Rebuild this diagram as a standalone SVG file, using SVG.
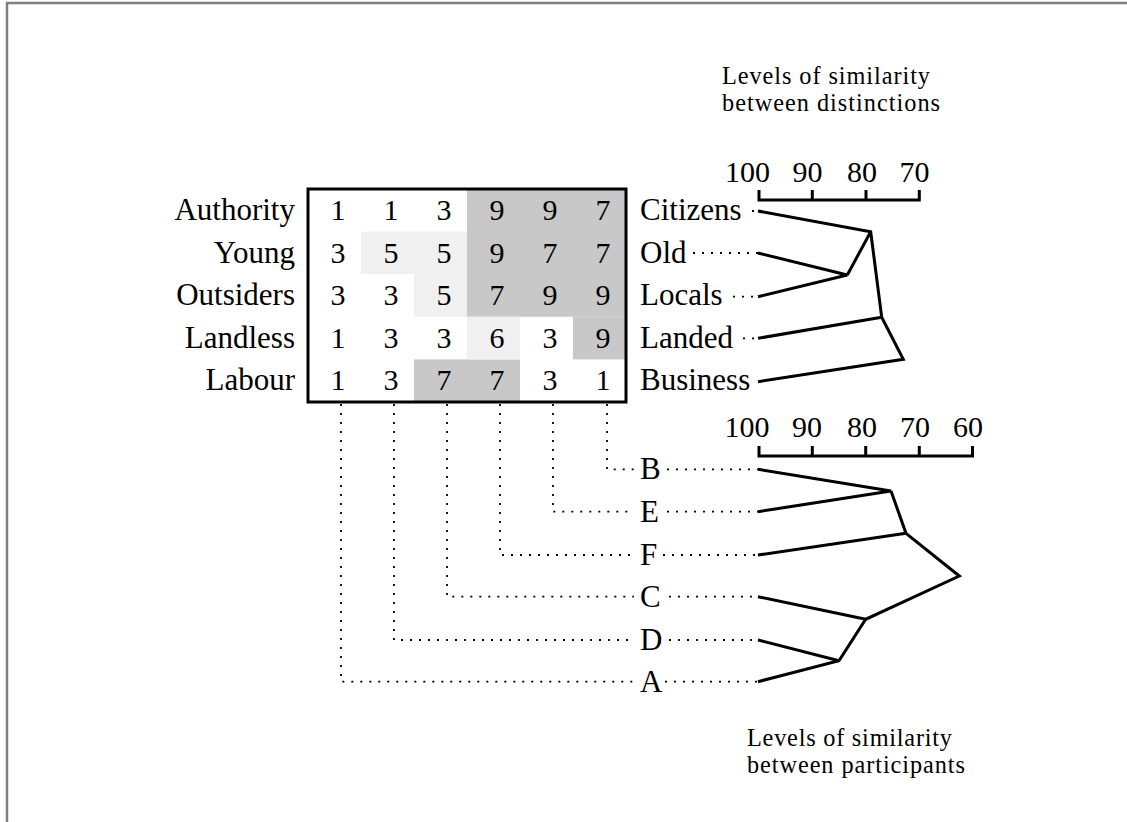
<svg xmlns="http://www.w3.org/2000/svg" width="1127" height="822" viewBox="0 0 1127 822">
<style>
text{font-family:"Liberation Serif","Times New Roman",serif;fill:#000}
.lbl{font-size:31px}
.num{font-size:30px;text-anchor:middle}
.ttl{font-size:24.3px}
.end{text-anchor:end}
.dk{fill:#c8c8c8}
.lt{fill:#f0f0f0}
.solid{fill:none;stroke:#000;stroke-width:3;stroke-linejoin:miter}
.dot{fill:none;stroke:#000;stroke-width:1.8;stroke-dasharray:2 7}
</style>
<rect x="0" y="0" width="1127" height="822" fill="#fff"/>
<path d="M7,822 V3 H1127" fill="none" stroke="#808080" stroke-width="2.5"/>
<g id="grid">
<rect class="dk" x="467" y="189" width="159" height="127.8"/>
<rect class="dk" x="573" y="316.8" width="53" height="42.6"/>
<rect class="dk" x="414" y="359.4" width="106" height="42.6"/>
<rect class="lt" x="361" y="231.6" width="106" height="42.6"/>
<rect class="lt" x="414" y="274.2" width="53" height="42.6"/>
<rect class="lt" x="467" y="316.8" width="53" height="42.6"/>
<rect x="308" y="189" width="318" height="213" fill="none" stroke="#000" stroke-width="3"/>
<g class="num">
<text x="338" y="220">1</text><text x="391" y="220">1</text><text x="444" y="220">3</text><text x="497" y="220">9</text><text x="550" y="220">9</text><text x="603" y="220">7</text>
<text x="338" y="262.6">3</text><text x="391" y="262.6">5</text><text x="444" y="262.6">5</text><text x="497" y="262.6">9</text><text x="550" y="262.6">7</text><text x="603" y="262.6">7</text>
<text x="338" y="305.2">3</text><text x="391" y="305.2">3</text><text x="444" y="305.2">5</text><text x="497" y="305.2">7</text><text x="550" y="305.2">9</text><text x="603" y="305.2">9</text>
<text x="338" y="347.8">1</text><text x="391" y="347.8">3</text><text x="444" y="347.8">3</text><text x="497" y="347.8">6</text><text x="550" y="347.8">3</text><text x="603" y="347.8">9</text>
<text x="338" y="390.4">1</text><text x="391" y="390.4">3</text><text x="444" y="390.4">7</text><text x="497" y="390.4">7</text><text x="550" y="390.4">3</text><text x="603" y="390.4">1</text>
</g>
</g>
<g id="left-labels">
<text class="lbl end" x="295" y="220">Authority</text>
<text class="lbl end" x="295" y="262.6">Young</text>
<text class="lbl end" x="295" y="305.2">Outsiders</text>
<text class="lbl end" x="295" y="347.8">Landless</text>
<text class="lbl end" x="295" y="390.4">Labour</text>
</g>
<g id="right-labels">
<text class="lbl" x="640" y="220">Citizens</text>
<text class="lbl" x="640" y="262.6">Old</text>
<text class="lbl" x="640" y="305.2">Locals</text>
<text class="lbl" x="640" y="347.8">Landed</text>
<text class="lbl" x="640" y="390.4">Business</text>
</g>
<g id="participant-labels">
<text class="lbl" x="640" y="479.3">B</text>
<text class="lbl" x="640" y="521.7">E</text>
<text class="lbl" x="640" y="565">F</text>
<text class="lbl" x="640" y="606.7">C</text>
<text class="lbl" x="640" y="650">D</text>
<text class="lbl" x="640" y="691.7">A</text>
</g>
<g id="title-distinctions">
<text class="ttl" x="722" y="84" textLength="208" lengthAdjust="spacing">Levels of similarity</text>
<text class="ttl" x="722" y="111" textLength="218" lengthAdjust="spacing">between distinctions</text>
</g>
<g id="title-participants">
<text class="ttl" x="747" y="746" textLength="205" lengthAdjust="spacing">Levels of similarity</text>
<text class="ttl" x="747" y="773" textLength="218" lengthAdjust="spacing">between participants</text>
</g>
<g id="axis-distinctions">
<path class="solid" d="M759,190 V200 H919.3 V190 M812.3,190 V200 M866,190 V200"/>
<text class="num" x="747.5" y="182">100</text>
<text class="num" x="807.5" y="182">90</text>
<text class="num" x="862" y="182">80</text>
<text class="num" x="914.5" y="182">70</text>
</g>
<g id="axis-participants">
<path class="solid" d="M759,446 V456 H972.5 V446 M812.3,446 V456 M865.7,446 V456 M919.3,446 V456"/>
<text class="num" x="747" y="437">100</text>
<text class="num" x="807" y="437">90</text>
<text class="num" x="862" y="437">80</text>
<text class="num" x="915" y="437">70</text>
<text class="num" x="968" y="437">60</text>
</g>
<g id="connectors">
<path class="solid" d="M758,211 L870.7,231.7 L881.7,317.3 L903.3,359.3 L758,381.7"/>
<path class="solid" d="M758,253 L847.3,275 L758,296.7 M847.3,275 L870.7,231.7"/>
<path class="solid" d="M758,338.3 L881.7,317.3"/>
<path class="solid" d="M758,469.3 L891,491 L758,511.7"/>
<path class="solid" d="M891,491 L906,533.3 L959.3,576 L865.7,619.3 L839,660.7 L758,681.7"/>
<path class="solid" d="M758,555 L906,533.3 M758,596.7 L865.7,619.3 M758,640 L839,660.7"/>
<path class="dot" d="M752,211 H758 M693,253 H758 M733,296.7 H758 M743,338.3 H758"/>
<path class="dot" d="M607,404 V469.3 H634 M553,404 V511.7 H634 M500,404 V555 H634 M447,404 V596.7 H634 M394,404 V640 H634 M341,404 V681.7 H634"/>
<path class="dot" d="M667,469.3 H758 M667,511.7 H758 M663,555 H758 M669,596.7 H758 M669,640 H758 M665,681.7 H758"/>
</g>
</svg>
